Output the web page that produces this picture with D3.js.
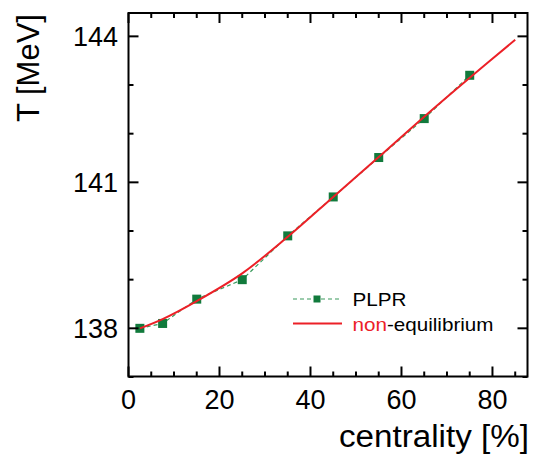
<!DOCTYPE html>
<html>
<head>
<meta charset="utf-8">
<script src="https://cdn.jsdelivr.net/npm/d3@7"></script>
<style>
  body { margin: 0; background: #fff; }
  svg text { font-family: "Liberation Sans", Arial, sans-serif; fill: #000; }
</style>
</head>
<body>
<svg id="chart" width="536" height="459"></svg>
<script>
// PLPR points
centrality = [2.5, 7.5, 15, 25, 35, 45, 55, 65, 75];
plprT = [138.0, 138.1, 138.6, 139.0, 139.9, 140.7, 141.51, 142.31, 143.2];
// non-equilibrium curve
noneqX = [2.5, 7.5, 15, 25, 35, 45, 55, 65, 75, 85];
noneqT = [138.0, 138.19, 138.56, 139.13, 139.88, 140.7, 141.52, 142.35, 143.15, 143.93];
xTicks = [0, 20, 40, 60, 80];
yTicks = [138, 141, 144];

let svg = d3.select("#chart");
let pLeft = 128.5, pRight = 527.5, pTop = 13, pBottom = 376.5;

let x = d3.scaleLinear().domain([0, 87.7]).range([pLeft, pRight]);
let y = d3.scaleLinear().domain([137.01, 144.48]).range([pBottom, pTop]);

let plprData = centrality.map((c, i) => ({x: c, y: plprT[i]}));
let noneqData = noneqX.map((c, i) => ({x: c, y: noneqT[i]}));

// PLPR dashed line
svg.append("path")
    .datum(plprData)
    .attr("d", d3.line().x(d => x(d.x)).y(d => y(d.y)))
    .attr("fill", "none")
    .attr("stroke", "#3a9a5c")
    .attr("stroke-width", 1.2)
    .attr("stroke-dasharray", "4,3");

svg.selectAll(".sq")
    .data(plprData)
    .enter()
    .append("rect")
    .attr("class", "sq")
    .attr("x", d => x(d.x) - 4.5)
    .attr("y", d => y(d.y) - 4.5)
    .attr("width", 9)
    .attr("height", 9)
    .attr("fill", "#117a3c");

// non-equilibrium
svg.append("path")
    .datum(noneqData)
    .attr("d", d3.line().curve(d3.curveCatmullRom).x(d => x(d.x)).y(d => y(d.y)))
    .attr("fill", "none")
    .attr("stroke", "#ec2027")
    .attr("stroke-width", 2);

// frame
svg.append("rect")
    .attr("x", pLeft).attr("y", pTop)
    .attr("width", pRight - pLeft).attr("height", pBottom - pTop)
    .attr("fill", "none").attr("stroke", "#000").attr("stroke-width", 2);

// axes, ticks inward on all four sides
let minorX = d3.range(0, 88, 5);
let minorY = d3.range(137, 144.6, 1);
let ticks = svg.append("g").attr("stroke", "#000").attr("stroke-width", 2);
minorX.forEach(v => {
    let len = v % 20 == 0 ? 10 : 5;
    ticks.append("line").attr("x1", x(v)).attr("x2", x(v)).attr("y1", pBottom).attr("y2", pBottom - len);
    ticks.append("line").attr("x1", x(v)).attr("x2", x(v)).attr("y1", pTop).attr("y2", pTop + len);
});
minorY.forEach(v => {
    let len = (v - 138) % 3 == 0 ? 10 : 5;
    ticks.append("line").attr("x1", pLeft).attr("x2", pLeft + len).attr("y1", y(v)).attr("y2", y(v));
    ticks.append("line").attr("x1", pRight).attr("x2", pRight - len).attr("y1", y(v)).attr("y2", y(v));
});

svg.selectAll(".xt")
    .data(xTicks)
    .enter()
    .append("text")
    .attr("x", d => x(d))
    .attr("y", 409)
    .attr("text-anchor", "middle")
    .attr("font-size", 27)
    .text(d => d);

svg.selectAll(".yt")
    .data(yTicks)
    .enter()
    .append("text")
    .attr("x", 118)
    .attr("y", d => y(d) + 9.5)
    .attr("text-anchor", "end")
    .attr("font-size", 27)
    .text(d => d);

svg.append("text")
    .attr("x", 339)
    .attr("y", 447)
    .attr("font-size", 31)
    .attr("textLength", 190)
    .attr("lengthAdjust", "spacingAndGlyphs")
    .text("centrality [%]");

svg.append("text")
    .attr("transform", "translate(39,68) rotate(-90)")
    .attr("text-anchor", "middle")
    .attr("font-size", 31)
    .text("T [MeV]");

// legend
let lg = svg.append("g");
lg.append("line")
    .attr("x1", 293).attr("x2", 342).attr("y1", 299).attr("y2", 299)
    .attr("stroke", "#3a9a5c").attr("stroke-width", 1.2).attr("stroke-dasharray", "4,3");
lg.append("rect").attr("x", 313.5).attr("y", 295.5).attr("width", 7).attr("height", 7).attr("fill", "#117a3c");
lg.append("text").attr("x", 352.5).attr("y", 306).attr("font-size", 18.5)
    .attr("textLength", 54).attr("lengthAdjust", "spacingAndGlyphs").text("PLPR");
lg.append("line")
    .attr("x1", 293).attr("x2", 342).attr("y1", 323.5).attr("y2", 323.5)
    .attr("stroke", "#ec2027").attr("stroke-width", 2);
let t2 = lg.append("text").attr("x", 352.5).attr("y", 331).attr("font-size", 18.5)
    .attr("textLength", 141).attr("lengthAdjust", "spacingAndGlyphs");
t2.append("tspan").style("fill", "#ec2027").text("non");
t2.append("tspan").text("-equilibrium");
</script>
</body>
</html>
